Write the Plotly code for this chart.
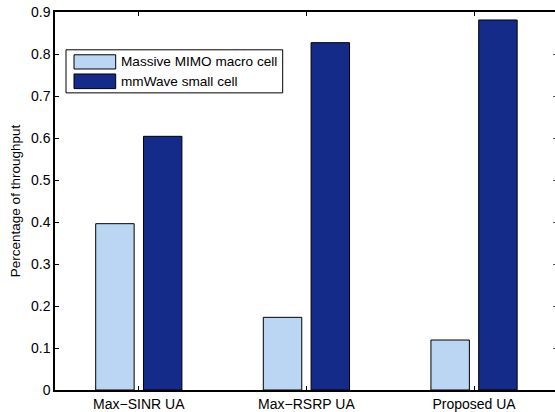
import plotly.graph_objects as go

# Throughput share per user-association scheme
schemes = ["Max\u2212SINR UA", "Max\u2212RSRP UA", "Proposed UA"]
macro_share = [0.396, 0.173, 0.119]
mmwave_share = [0.604, 0.827, 0.881]
series_names = ["Massive MIMO macro cell", "mmWave small cell"]
series_colors = ["#BBD6F2", "#152B8A"]
y_ticks = [0, 0.1, 0.2, 0.3, 0.4, 0.5, 0.6, 0.7, 0.8, 0.9]

W, H = 555, 412
ML, MR, MT, MB = 55, 0, 12, 20
FONT = "Liberation Sans, Arial, Helvetica, sans-serif"
TICK_SIZE = 14
LEGEND_SIZE = 13.6


def px_x(p):
    return (p - ML) / (W - ML - MR)


def px_y(p):
    return 1 - (p - MT) / (H - MT - MB)


fig = go.Figure()
for name, vals, col in zip(series_names, [macro_share, mmwave_share], series_colors):
    fig.add_trace(go.Bar(
        x=schemes, y=vals, name=name,
        marker=dict(color=col, line=dict(color="#000000", width=1)),
        showlegend=False,
    ))

# empty trace so the right-hand tick axis is rendered
fig.add_trace(go.Scatter(x=[], y=[], yaxis="y2", showlegend=False, hoverinfo="skip"))

fig.update_layout(
    width=W, height=H,
    margin=dict(l=ML, r=MR, t=MT, b=MB, pad=0),
    paper_bgcolor="white", plot_bgcolor="white",
    font=dict(family=FONT, size=TICK_SIZE, color="#000000"),
    barmode="group", bargap=0.43, bargroupgap=0.195,
    xaxis=dict(
        type="category", range=[-0.5, 2.483],
        showline=True, linecolor="#000000", linewidth=1.5, mirror="ticks",
        ticks="inside", ticklen=4, tickcolor="#000000", tickwidth=1,
        showgrid=False, zeroline=False,
        tickfont=dict(size=TICK_SIZE),
        ticklabelstandoff=0,
    ),
    yaxis=dict(
        range=[0, 0.9], tickvals=y_ticks,
        showline=True, linecolor="#000000", linewidth=1.5,
        ticks="inside", ticklen=4, tickcolor="#000000", tickwidth=1,
        showgrid=False, zeroline=False,
        tickfont=dict(size=TICK_SIZE),
        ticklabelstandoff=0,
        title=dict(text="Percentage of throughput", font=dict(size=13.5), standoff=7),
    ),
    yaxis2=dict(
        overlaying="y", side="right", range=[0, 0.9], tickvals=y_ticks,
        showline=False, showgrid=False, zeroline=False,
        showticklabels=False, ticks="inside", ticklen=2,
        tickcolor="#555555", tickwidth=1,
    ),
)

# legend box with wide swatches
shapes = [dict(type="rect", xref="paper", yref="paper",
               x0=px_x(66), x1=px_x(282.7), y0=px_y(93.3), y1=px_y(50),
               line=dict(color="#000000", width=1), fillcolor="white", layer="above")]
annotations = []
rows = [(55, 69.3), (74.3, 89)]
for (top, bot), name, col in zip(rows, series_names, series_colors):
    shapes.append(dict(type="rect", xref="paper", yref="paper",
                       x0=px_x(74), x1=px_x(115.7), y0=px_y(bot), y1=px_y(top),
                       line=dict(color="#000000", width=1), fillcolor=col, layer="above"))
    annotations.append(dict(xref="paper", yref="paper", x=px_x(118.5), y=px_y((top + bot) / 2),
                            text=name, showarrow=False, xanchor="left", yanchor="middle",
                            font=dict(size=LEGEND_SIZE, family=FONT, color="#000000")))
fig.update_layout(shapes=shapes, annotations=annotations)

fig.write_html("out.html")
